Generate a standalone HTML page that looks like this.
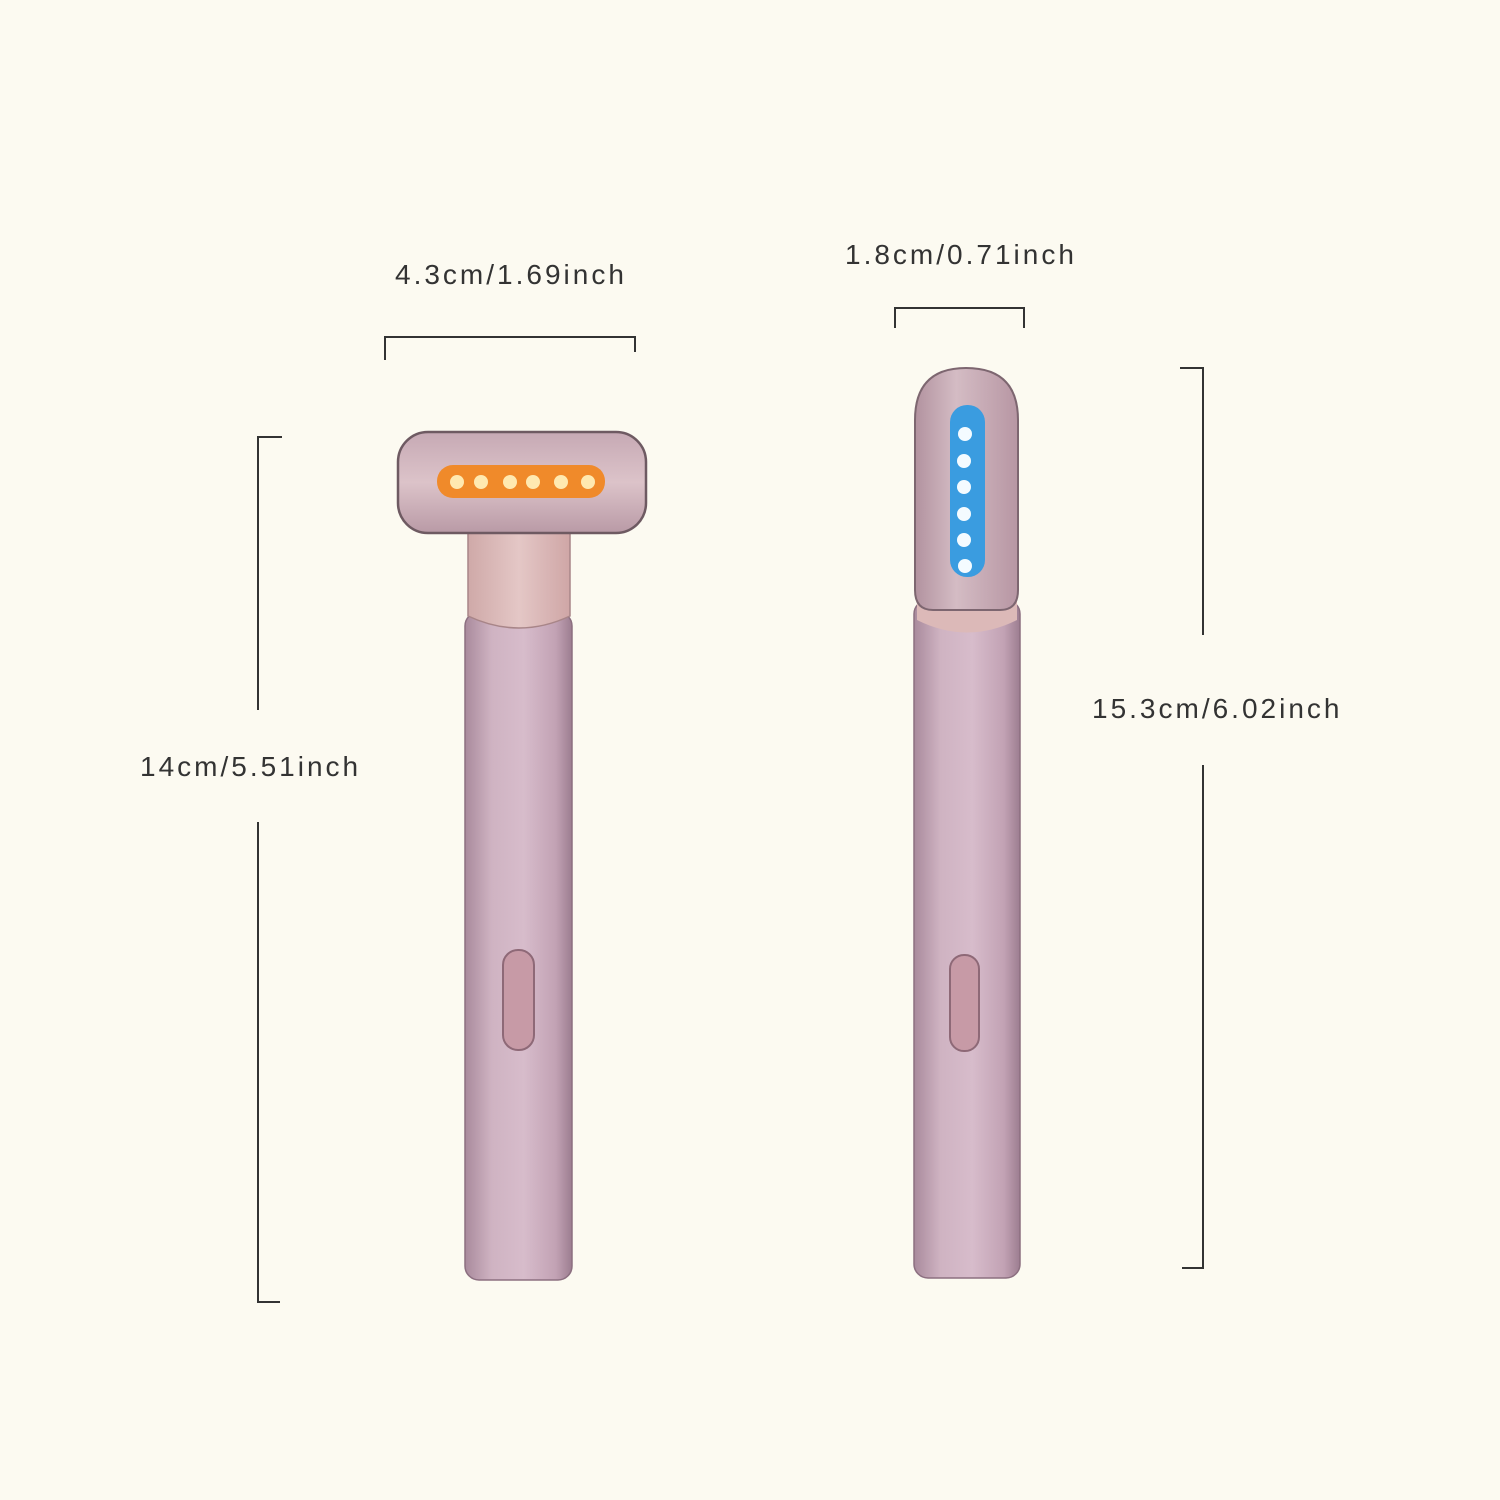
<!DOCTYPE html>
<html><head><style>body{margin:0;background:#fcfaf1}svg{display:block}text{font-family:"Liberation Sans",sans-serif;font-size:28px;fill:#333;letter-spacing:3px}</style></head><body>
<svg width="1500" height="1500" viewBox="0 0 1500 1500">
<defs>
<linearGradient id="body" x1="0" x2="1"><stop offset="0" stop-color="#a98a9c"/><stop offset="0.25" stop-color="#cfb3c2"/><stop offset="0.55" stop-color="#d7bccb"/><stop offset="0.85" stop-color="#c2a2b4"/><stop offset="1" stop-color="#9c7d90"/></linearGradient>
<linearGradient id="head" x1="0" y1="0" x2="0" y2="1"><stop offset="0" stop-color="#c6a9b4"/><stop offset="0.5" stop-color="#dcc3c9"/><stop offset="1" stop-color="#b99aa6"/></linearGradient>
<linearGradient id="neck" x1="0" x2="1"><stop offset="0" stop-color="#cfa9a8"/><stop offset="0.5" stop-color="#e4c7c6"/><stop offset="1" stop-color="#cfa6a6"/></linearGradient>
<linearGradient id="rhead" x1="0" x2="1"><stop offset="0" stop-color="#b2929f"/><stop offset="0.4" stop-color="#d4bcc4"/><stop offset="1" stop-color="#b796a3"/></linearGradient>
</defs>
<g stroke="#333" stroke-width="2" fill="none">
<path d="M385 360V337H635V352"/>
<path d="M895 328V308H1024V328"/>
<path d="M282 437H258V710M258 822V1302H280"/>
<path d="M1180 368H1203V635M1203 765V1268H1182"/>
</g>
<text x="395" y="284">4.3cm/1.69inch</text>
<text x="845" y="264">1.8cm/0.71inch</text>
<text x="140" y="776">14cm/5.51inch</text>
<text x="1092" y="718">15.3cm/6.02inch</text>
<rect x="465" y="612" width="107" height="668" rx="14" fill="url(#body)" stroke="#8c6f80" stroke-width="1.5"/>
<path d="M468 533H570V616Q519 640 468 616Z" fill="url(#neck)" stroke="#a88588" stroke-width="1.5"/>
<rect x="398" y="432" width="248" height="101" rx="30" fill="url(#head)" stroke="#6e5a62" stroke-width="2.5"/>
<rect x="437" y="465" width="168" height="33" rx="16" fill="#f08a2a"/>
<g fill="#ffe9b0"><circle cx="457" cy="482" r="7"/><circle cx="481" cy="482" r="7"/><circle cx="510" cy="482" r="7"/><circle cx="533" cy="482" r="7"/><circle cx="561" cy="482" r="7"/><circle cx="588" cy="482" r="7"/></g>
<rect x="503" y="950" width="31" height="100" rx="15" fill="#c79aa6" stroke="#8e6977" stroke-width="2"/>
<rect x="914" y="600" width="106" height="678" rx="14" fill="url(#body)" stroke="#8c6f80" stroke-width="1.5"/>
<path d="M917 600H1017V620Q967 645 917 620Z" fill="#dcb9b8"/>
<path d="M915 420Q915 368 966 368Q1018 368 1018 420V590Q1018 610 1000 610H933Q915 610 915 590Z" fill="url(#rhead)" stroke="#7d6670" stroke-width="2"/>
<rect x="950" y="405" width="35" height="172" rx="17" fill="#3a9ce0"/>
<g fill="#f4fbff"><circle cx="965" cy="434" r="7"/><circle cx="964" cy="461" r="7"/><circle cx="964" cy="487" r="7"/><circle cx="964" cy="514" r="7"/><circle cx="964" cy="540" r="7"/><circle cx="965" cy="566" r="7"/></g>
<rect x="950" y="955" width="29" height="96" rx="14" fill="#c79aa6" stroke="#8e6977" stroke-width="2"/>
</svg>
</body></html>
